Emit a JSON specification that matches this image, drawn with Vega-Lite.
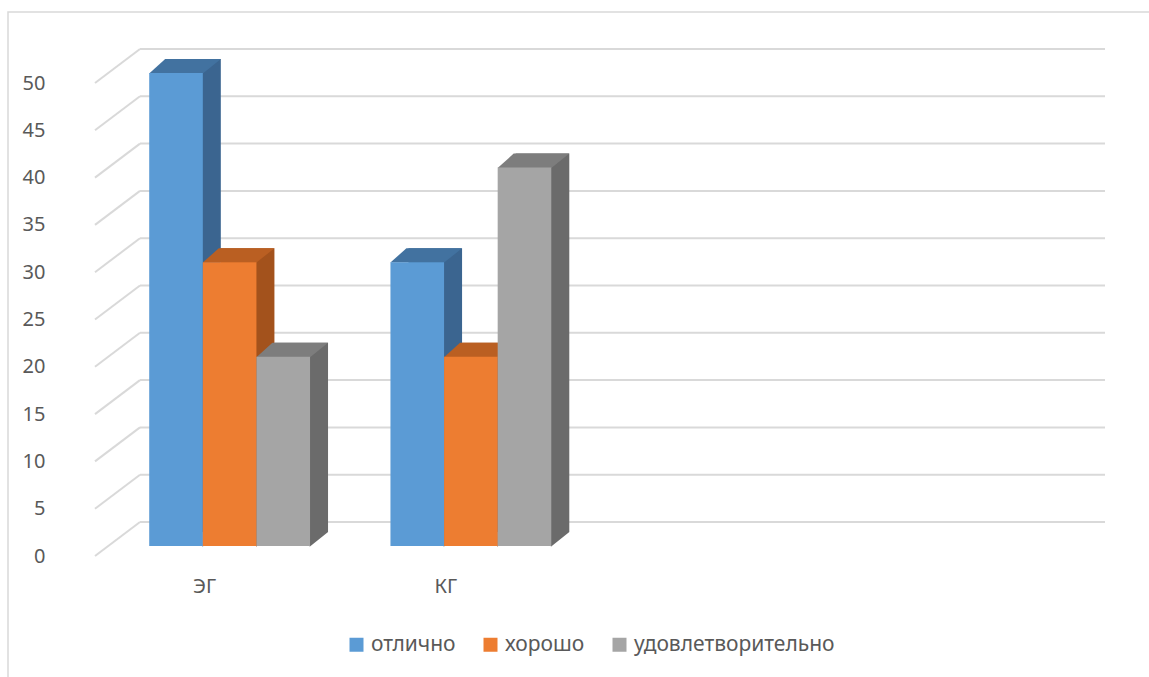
{
  "$schema": "https://vega.github.io/schema/vega-lite/v6.json",
  "width": 965,
  "height": 473,
  "autosize": "none",
  "padding": {"left": 140, "top": 49, "right": 44, "bottom": 155},
  "background": "#ffffff",
  "config": {
    "view": {"stroke": null},
    "font": "Noto Sans",
    "axisY": {
      "grid": false,
      "domain": false,
      "ticks": false,
      "labelPadding": 95,
      "labelOffset": 34,
      "labelFontSize": 20,
      "labelColor": "#595959",
      "labelFont": "Noto Sans",
      "labelOverlap": false,
      "labelBound": false,
      "labelFlush": false
    },
    "axisX": {
      "grid": false,
      "domain": false,
      "ticks": false,
      "labelAngle": 0,
      "labelPadding": 54,
      "labelOffset": -25,
      "labelFontSize": 20,
      "labelColor": "#595959",
      "labelFont": "Noto Sans"
    }
  },
  "datasets": {
    "bars": [
      {"group": "ЭГ", "series": "отлично", "value": 50},
      {"group": "ЭГ", "series": "хорошо", "value": 30},
      {"group": "ЭГ", "series": "удовлетворительно", "value": 20},
      {"group": "КГ", "series": "отлично", "value": 30},
      {"group": "КГ", "series": "хорошо", "value": 20},
      {"group": "КГ", "series": "удовлетворительно", "value": 40}
    ],
    "ticks": [
      {"v": 0}, {"v": 5}, {"v": 10}, {"v": 15}, {"v": 20}, {"v": 25},
      {"v": 30}, {"v": 35}, {"v": 40}, {"v": 45}, {"v": 50}
    ],
    "frame": [{"f": 1}]
  },
  "resolve": {"scale": {"xOffset": "independent"}},
  "layer": [
    {
      "data": {"name": "frame"},
      "mark": {"type": "rect", "fill": "transparent", "stroke": "#D9D9D9", "strokeWidth": 1.5},
      "encoding": {
        "x": {"value": -132},
        "x2": {"value": 1020},
        "y": {"value": -37},
        "y2": {"value": 640}
      }
    },
    {
      "data": {"name": "ticks"},
      "mark": {"type": "rule", "color": "#D9D9D9", "strokeWidth": 2},
      "encoding": {
        "y": {
          "field": "v",
          "type": "quantitative",
          "scale": {"domain": [0, 50], "nice": false, "zero": true},
          "axis": {"title": null, "tickCount": 10, "labelOverlap": false}
        }
      }
    },
    {
      "data": {"name": "ticks"},
      "mark": {"type": "rule", "color": "#D9D9D9", "strokeWidth": 2, "yOffset": 34},
      "encoding": {
        "x": {"value": -45},
        "x2": {"value": 0},
        "y": {"field": "v", "type": "quantitative", "axis": {"title": null}},
        "y2": {"field": "v"}
      }
    },
    {
      "data": {"name": "bars"},
      "mark": {"type": "bar", "yOffset": 10, "y2Offset": 10},
      "encoding": {
        "x": {"field": "group", "type": "nominal", "scale": {"domain": ["ЭГ", "КГ", " ", "  "], "range": [-31, 934], "paddingInner": 0.3333, "paddingOuter": 0.16667}, "axis": {"title": null}},
        "xOffset": {"field": "series", "type": "nominal", "scale": {"domain": ["отлично", "хорошо", "удовлетворительно"], "range": [18, 178.83]}},
        "y": {"field": "value", "type": "quantitative", "axis": {"title": null}},
        "color": {
          "condition": [
            {"test": "datum.series === 'отлично'", "value": "#3B6590"},
            {"test": "datum.series === 'хорошо'", "value": "#A3521C"}
          ],
          "value": "#6B6B6B"
        }
      }
    },
    {
      "data": {"name": "bars"},
      "mark": {"type": "point", "shape": "M 0.66 0.02 L 1.1208 -0.35 L 0.66 -0.35 Z", "size": 6400, "filled": true, "opacity": 1, "strokeWidth": 0, "yOffset": 24},
      "encoding": {
        "x": {"field": "group", "type": "nominal", "scale": {"domain": ["ЭГ", "КГ", " ", "  "], "range": [-31, 934], "paddingInner": 0.3333, "paddingOuter": 0.16667}, "axis": {"title": null}},
        "xOffset": {"field": "series", "type": "nominal", "scale": {"domain": ["отлично", "хорошо", "удовлетворительно"]}},
        "y": {"datum": 0, "type": "quantitative", "axis": {"title": null}},
        "color": {
          "condition": [
            {"test": "datum.series === 'отлично'", "value": "#3B6590"},
            {"test": "datum.series === 'хорошо'", "value": "#A3521C"}
          ],
          "value": "#6B6B6B"
        }
      }
    },
    {
      "data": {"name": "bars"},
      "mark": {"type": "point", "shape": "M -0.6708 0.01 L -0.2708 -0.35 L 1.1208 -0.35 L 0.6708 0.01 Z", "size": 6400, "filled": true, "opacity": 1, "strokeWidth": 0, "yOffset": 24},
      "encoding": {
        "x": {"field": "group", "type": "nominal", "scale": {"domain": ["ЭГ", "КГ", " ", "  "], "range": [-31, 934], "paddingInner": 0.3333, "paddingOuter": 0.16667}, "axis": {"title": null}},
        "xOffset": {"field": "series", "type": "nominal", "scale": {"domain": ["отлично", "хорошо", "удовлетворительно"]}},
        "y": {"field": "value", "type": "quantitative", "axis": {"title": null}},
        "color": {
          "condition": [
            {"test": "datum.series === 'отлично'", "value": "#4272A0"},
            {"test": "datum.series === 'хорошо'", "value": "#BA5F22"}
          ],
          "value": "#7D7D7D"
        }
      }
    },
    {
      "data": {"name": "bars"},
      "mark": {"type": "bar", "yOffset": 24, "y2Offset": 24},
      "encoding": {
        "x": {
          "field": "group",
          "type": "nominal",
          "scale": {"domain": ["ЭГ", "КГ", " ", "  "], "range": [-31, 934], "paddingInner": 0.3333, "paddingOuter": 0.16667},
          "axis": {"title": null}
        },
        "xOffset": {"field": "series", "type": "nominal", "scale": {"domain": ["отлично", "хорошо", "удовлетворительно"]}},
        "y": {"field": "value", "type": "quantitative", "axis": {"title": null}},
        "color": {
          "field": "series",
          "type": "nominal",
          "scale": {"domain": ["отлично", "хорошо", "удовлетворительно"], "range": ["#5B9BD5", "#ED7D31", "#A5A5A5"]},
          "legend": {
            "orient": "none",
            "legendX": 206,
            "legendY": 585,
            "direction": "horizontal",
            "title": null,
            "symbolType": "square",
            "symbolSize": 196,
            "symbolStrokeWidth": 0,
            "labelFontSize": 21,
            "labelColor": "#595959",
            "labelFont": "Noto Sans",
            "labelOffset": 4,
            "labelLimit": 500,
            "columnPadding": 24
          }
        }
      }
    }
  ]
}
